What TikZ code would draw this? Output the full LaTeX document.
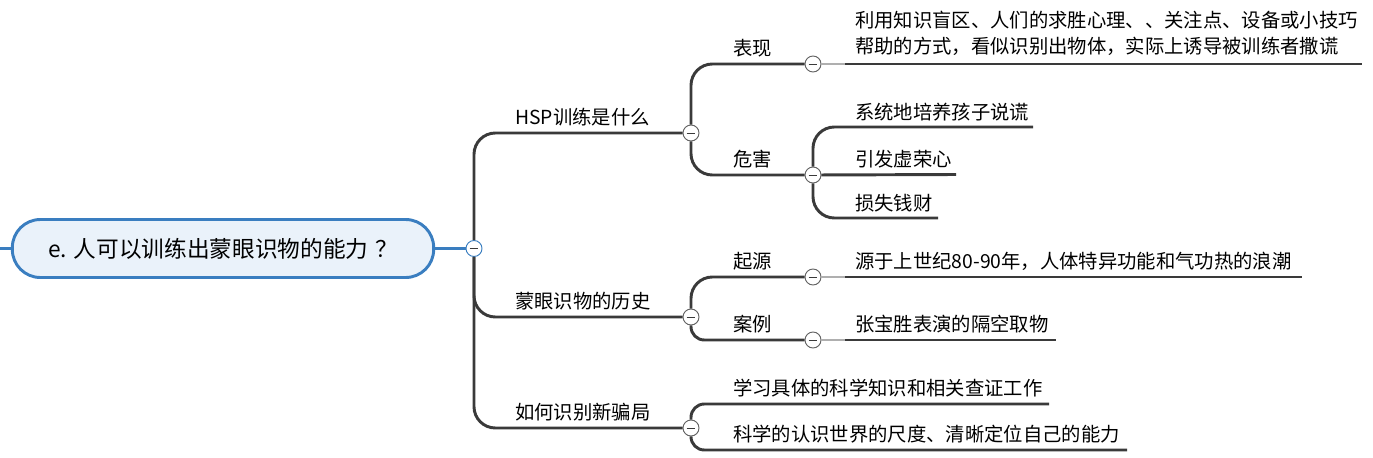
\documentclass[tikz,border=0pt]{standalone}
\usepackage{fontspec}
\setmainfont{Noto Sans CJK SC}
\definecolor{linec}{RGB}{58,58,58}
\definecolor{rootblue}{RGB}{58,126,192}
\definecolor{rootfill}{RGB}{234,242,250}
\definecolor{stubc}{RGB}{175,175,175}

\tikzset{
  branch/.style={draw=linec, line width=2.2pt, rounded corners=16pt},
  twig/.style={branch, rounded corners=10pt},
  stub/.style={draw=stubc, line width=1.2pt},
  label/.style={anchor=base west, inner sep=0pt, font=\fontsize{14.5pt}{19.5pt}\selectfont},
  collapse/.style={circle, draw=linec!80, fill=white, line width=0.7pt,
    minimum size=12pt, inner sep=0pt,
    path picture={\draw[line width=0.6pt, linec]
      ([xshift=-3.2pt]path picture bounding box.center) --
      ([xshift=3.2pt]path picture bounding box.center);}},
}

\begin{document}
\begin{tikzpicture}[x=0.75pt, y=-0.75pt]
  \useasboundingbox (0,0) rectangle (1373,457);
  % Central topic
  \node[draw=rootblue, fill=rootfill, line width=2.2pt, rounded corners=21pt,
    minimum width=316pt, minimum height=43.5pt, inner sep=0pt,
    font=\fontsize{17pt}{20pt}\selectfont] (root) at (223,248.5)
    {e. 人可以训练出蒙眼识物的能力\hspace{0.3em}？};
  \coordinate (rootin) at (0,248.5);
  \node[collapse, draw=rootblue] (c0) at (474,248.5) {};
  \draw[rootblue, line width=2.2pt] (rootin) -- (root.west);
  \draw[rootblue, line width=2.2pt] (root.east) -- (c0);

  % Main branches
  \node[collapse] (c1) at (691,133) {};
  \node[collapse] (c2) at (691,317) {};
  \node[collapse] (c3) at (691,428) {};
  \node[label] (hsp) at (515,124) {HSP训练是什么};
  \node[label] (hist) at (515,308) {蒙眼识物的历史};
  \node[label] (spot) at (515,419) {如何识别新骗局};
  \draw[branch] (c0) |- (c1);
  \draw[branch] (c0) |- (c2);
  \draw[branch] (c0) |- (c3);

  % HSP训练是什么
  \node[collapse] (cs1) at (813,64) {};
  \node[collapse] (cs2) at (813,175) {};
  \node[label] (show) at (733,55) {表现};
  \node[label] (harm) at (733,166) {危害};
  \draw[branch] (c1) |- (cs1);
  \draw[branch] (c1) |- (cs2);
  \node[label, anchor=south west, align=left] (trick) at (855,56)
    {利用知识盲区、人们的求胜心理、、关注点、设备或小技巧\\
     帮助的方式，看似识别出物体，实际上诱导被训练者撒谎};
  \coordinate (trickA) at (845,64);
  \coordinate (trickB) at (1362,64);
  \draw[stub] (cs1) -- (trickA);
  \draw[branch] (trickA) -- (trickB);
  \node[label] (lie) at (855,119) {系统地培养孩子说谎};
  \node[label] (vain) at (855,166) {引发虚荣心};
  \node[label] (money) at (855,210) {损失钱财};
  \coordinate (lieB) at (1033,127);
  \coordinate (vainB) at (956,174.5);
  \coordinate (moneyB) at (938,218);
  \draw[branch] (cs2) |- (lieB);
  \draw[branch] (cs2) -- (vainB);
  \draw[branch] (cs2) |- (moneyB);

  % 蒙眼识物的历史
  \node[collapse] (cs3) at (813,277) {};
  \node[collapse] (cs4) at (813,340) {};
  \node[label] (origin) at (733,268) {起源};
  \node[label] (case) at (733,331) {案例};
  \draw[branch] (c2) |- (cs3);
  \draw[twig] (c2) |- (cs4);
  \node[label] (qigong) at (855,268) {源于上世纪80-90年，人体特异功能和气功热的浪潮};
  \node[label] (zhang) at (855,331) {张宝胜表演的隔空取物};
  \coordinate (qigongA) at (845,277);
  \coordinate (qigongB) at (1302,277);
  \coordinate (zhangA) at (845,340);
  \coordinate (zhangB) at (1056,340);
  \draw[stub] (cs3) -- (qigongA);
  \draw[branch] (qigongA) -- (qigongB);
  \draw[stub] (cs4) -- (zhangA);
  \draw[branch] (zhangA) -- (zhangB);

  % 如何识别新骗局
  \node[label] (learn) at (733,395) {学习具体的科学知识和相关查证工作};
  \node[label] (scale) at (733,441) {科学的认识世界的尺度、清晰定位自己的能力};
  \coordinate (learnB) at (1049,404);
  \coordinate (scaleB) at (1127,450);
  \draw[twig] (c3) |- (learnB);
  \draw[twig] (c3) |- (scaleB);
\end{tikzpicture}
\end{document}
